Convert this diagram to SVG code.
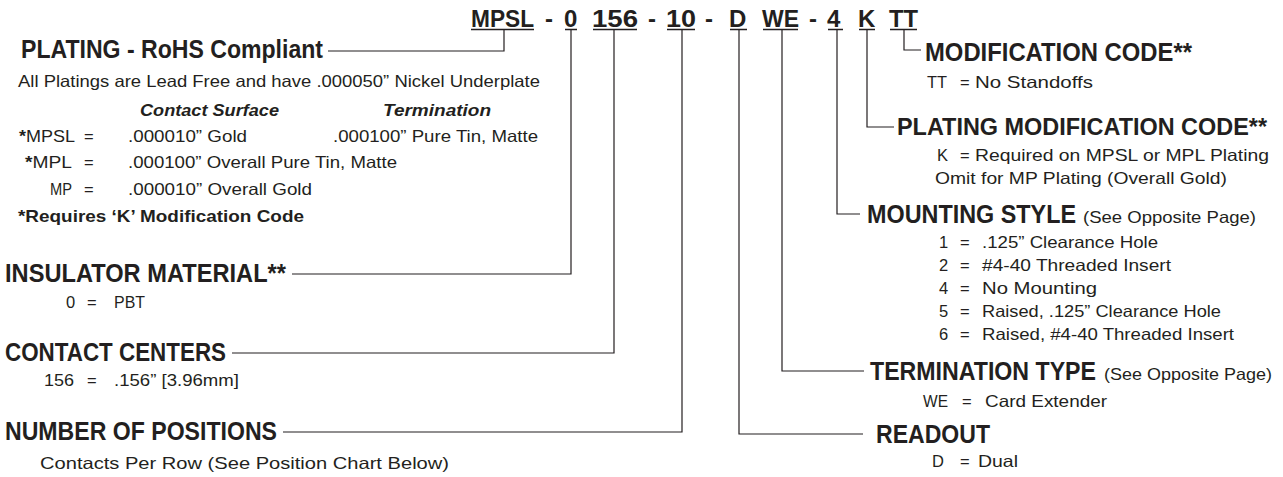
<svg xmlns="http://www.w3.org/2000/svg" width="1283" height="477" viewBox="0 0 1283 477">
<style>
text{font-family:"Liberation Sans",Arial,sans-serif;fill:#231f20}
.c{font-size:24px;font-weight:bold}
.h{font-size:25px;font-weight:bold}
.hs{font-size:23px;font-weight:bold}
.b{font-size:16.5px}
.bb{font-size:16.5px;font-weight:bold}
.bi{font-size:16.5px;font-weight:bold;font-style:italic}
.ln{stroke:#231f20;stroke-width:1.2;fill:none}
.ul{stroke:#231f20;stroke-width:1.5}
</style>
<rect width="1283" height="477" fill="#ffffff"/>
<g id="part-number">
<text class="c" x="471" y="27" textLength="63" lengthAdjust="spacingAndGlyphs">MPSL</text>
<text class="c" x="545" y="27">-</text>
<text class="c" x="564" y="27">0</text>
<text class="c" x="592" y="27" textLength="46" lengthAdjust="spacingAndGlyphs">156</text>
<text class="c" x="648" y="27">-</text>
<text class="c" x="666" y="27" textLength="30" lengthAdjust="spacingAndGlyphs">10</text>
<text class="c" x="705" y="27">-</text>
<text class="c" x="729" y="27">D</text>
<text class="c" x="762" y="27" textLength="37" lengthAdjust="spacingAndGlyphs">WE</text>
<text class="c" x="809" y="27">-</text>
<text class="c" x="827" y="27">4</text>
<text class="c" x="858" y="27">K</text>
<text class="c" x="889" y="27" textLength="29" lengthAdjust="spacingAndGlyphs">TT</text>
<path class="ul" d="M471 29.5H534M565 29.5H577M593 29.5H637M667 29.5H695M730 29.5H747M763 29.5H798M828 29.5H843M859 29.5H875M890 29.5H917"/>
</g>
<g id="connectors">
<path class="ln" d="M504 30V51H328"/>
<path class="ln" d="M571 30V274H292"/>
<path class="ln" d="M614 30V353H232"/>
<path class="ln" d="M682 30V432H283"/>
<path class="ln" d="M739 30V434H863"/>
<path class="ln" d="M782 30V371H864"/>
<path class="ln" d="M837 30V214H860"/>
<path class="ln" d="M867 30V127H894"/>
<path class="ln" d="M904 30V50H921"/>
</g>
<g id="plating">
<text class="h" x="21" y="58" textLength="302" lengthAdjust="spacingAndGlyphs">PLATING - RoHS Compliant</text>
<text class="b" x="18" y="87" textLength="522" lengthAdjust="spacingAndGlyphs">All Platings are Lead Free and have .000050” Nickel Underplate</text>
<text class="bi" x="140" y="116" textLength="139" lengthAdjust="spacingAndGlyphs">Contact Surface</text>
<text class="bi" x="383" y="116" textLength="108" lengthAdjust="spacingAndGlyphs">Termination</text>
<text class="b" x="19" y="142" textLength="56" lengthAdjust="spacingAndGlyphs"><tspan font-weight="bold">*</tspan>MPSL</text>
<text class="b" x="84" y="142">=</text>
<text class="b" x="128" y="142" textLength="119" lengthAdjust="spacingAndGlyphs">.000010” Gold</text>
<text class="b" x="333" y="142" textLength="205" lengthAdjust="spacingAndGlyphs">.000100” Pure Tin, Matte</text>
<text class="b" x="25" y="168" textLength="47" lengthAdjust="spacingAndGlyphs"><tspan font-weight="bold">*</tspan>MPL</text>
<text class="b" x="84" y="168">=</text>
<text class="b" x="128" y="168" textLength="269" lengthAdjust="spacingAndGlyphs">.000100” Overall Pure Tin, Matte</text>
<text class="b" x="50" y="195" textLength="22" lengthAdjust="spacingAndGlyphs">MP</text>
<text class="b" x="84" y="195">=</text>
<text class="b" x="128" y="195" textLength="184" lengthAdjust="spacingAndGlyphs">.000010” Overall Gold</text>
<text class="bb" x="18" y="222" textLength="286" lengthAdjust="spacingAndGlyphs">*Requires ‘K’ Modification Code</text>
</g>
<g id="insulator">
<text class="h" x="5" y="282" textLength="281" lengthAdjust="spacingAndGlyphs">INSULATOR MATERIAL**</text>
<text class="b" x="66" y="308">0</text>
<text class="b" x="87" y="308">=</text>
<text class="b" x="114" y="308" textLength="31" lengthAdjust="spacingAndGlyphs">PBT</text>
</g>
<g id="contact-centers">
<text class="h" x="5" y="361" textLength="221" lengthAdjust="spacingAndGlyphs">CONTACT CENTERS</text>
<text class="b" x="44" y="386" textLength="30" lengthAdjust="spacingAndGlyphs">156</text>
<text class="b" x="87" y="386">=</text>
<text class="b" x="114" y="386" textLength="125" lengthAdjust="spacingAndGlyphs">.156” [3.96mm]</text>
</g>
<g id="positions">
<text class="h" x="5" y="440" textLength="272" lengthAdjust="spacingAndGlyphs">NUMBER OF POSITIONS</text>
<text class="b" x="40" y="469" textLength="409" lengthAdjust="spacingAndGlyphs">Contacts Per Row (See Position Chart Below)</text>
</g>
<g id="modification">
<text class="h" x="925" y="61" textLength="267" lengthAdjust="spacingAndGlyphs">MODIFICATION CODE**</text>
<text class="b" x="927" y="88" textLength="20" lengthAdjust="spacingAndGlyphs">TT</text>
<text class="b" x="960" y="88">=</text>
<text class="b" x="975" y="88" textLength="118" lengthAdjust="spacingAndGlyphs">No Standoffs</text>
</g>
<g id="plating-modification">
<text class="hs" x="897" y="135" textLength="370" lengthAdjust="spacingAndGlyphs">PLATING MODIFICATION CODE**</text>
<text class="b" x="937" y="161">K</text>
<text class="b" x="960" y="161">=</text>
<text class="b" x="975" y="161" textLength="294" lengthAdjust="spacingAndGlyphs">Required on MPSL or MPL Plating</text>
<text class="b" x="935" y="184" textLength="292" lengthAdjust="spacingAndGlyphs">Omit for MP Plating (Overall Gold)</text>
</g>
<g id="mounting">
<text class="h" x="867" y="223" textLength="209" lengthAdjust="spacingAndGlyphs">MOUNTING STYLE</text>
<text class="b" x="1083" y="223" textLength="173" lengthAdjust="spacingAndGlyphs">(See Opposite Page)</text>
<text class="b" x="939" y="248">1</text><text class="b" x="960" y="248">=</text>
<text class="b" x="982" y="248" textLength="176" lengthAdjust="spacingAndGlyphs">.125” Clearance Hole</text>
<text class="b" x="939" y="271">2</text><text class="b" x="960" y="271">=</text>
<text class="b" x="982" y="271" textLength="189" lengthAdjust="spacingAndGlyphs">#4-40 Threaded Insert</text>
<text class="b" x="939" y="294">4</text><text class="b" x="960" y="294">=</text>
<text class="b" x="982" y="294" textLength="115" lengthAdjust="spacingAndGlyphs">No Mounting</text>
<text class="b" x="939" y="317">5</text><text class="b" x="960" y="317">=</text>
<text class="b" x="982" y="317" textLength="239" lengthAdjust="spacingAndGlyphs">Raised, .125” Clearance Hole</text>
<text class="b" x="939" y="340">6</text><text class="b" x="960" y="340">=</text>
<text class="b" x="982" y="340" textLength="252" lengthAdjust="spacingAndGlyphs">Raised, #4-40 Threaded Insert</text>
</g>
<g id="termination">
<text class="h" x="870" y="380" textLength="226" lengthAdjust="spacingAndGlyphs">TERMINATION TYPE</text>
<text class="b" x="1104" y="380" textLength="168" lengthAdjust="spacingAndGlyphs">(See Opposite Page)</text>
<text class="b" x="923" y="407" textLength="25" lengthAdjust="spacingAndGlyphs">WE</text>
<text class="b" x="962" y="407">=</text>
<text class="b" x="985" y="407" textLength="122" lengthAdjust="spacingAndGlyphs">Card Extender</text>
</g>
<g id="readout">
<text class="h" x="876" y="443" textLength="114" lengthAdjust="spacingAndGlyphs">READOUT</text>
<text class="b" x="932" y="467">D</text>
<text class="b" x="960" y="467">=</text>
<text class="b" x="978" y="467" textLength="40" lengthAdjust="spacingAndGlyphs">Dual</text>
</g>
</svg>
